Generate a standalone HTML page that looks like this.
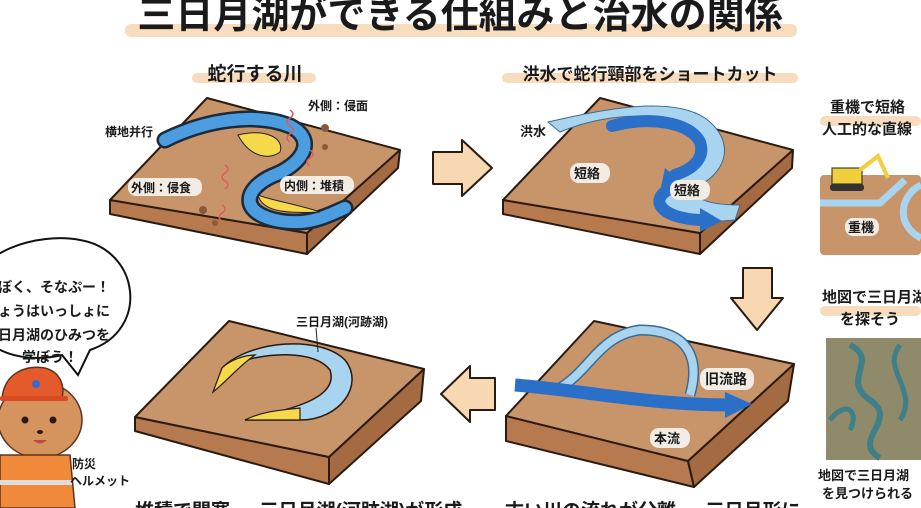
<!DOCTYPE html>
<html><head><meta charset="utf-8"><style>
html,body{margin:0;padding:0;background:#fff;}
svg{display:block;}
text{font-family:"Liberation Sans","Noto Sans CJK JP",sans-serif;fill:#1a1a1a;font-weight:bold;}
</style></head><body>
<svg width="921" height="508" viewBox="0 0 921 508" xmlns="http://www.w3.org/2000/svg">
<rect width="921" height="508" fill="#fff"/>
<rect x="125" y="24" width="672" height="13" rx="6" fill="#f7dcbd"/>
<text x="460" y="28" font-size="38" text-anchor="middle">三日月湖ができる仕組みと治水の関係</text>

<rect x="192" y="73" width="124" height="10" rx="5" fill="#f7dcbd"/>
<text x="255" y="80" font-size="19" text-anchor="middle">蛇行する川</text>
<rect x="502" y="73" width="296" height="10" rx="5" fill="#f7dcbd"/>
<text x="650" y="80" font-size="17" text-anchor="middle">洪水で蛇行頸部をショートカット</text>

<g stroke="#2a1a10" stroke-width="2" stroke-linejoin="round">
<polygon points="110,200 307,233 307,254 110,214" fill="#b77a4e"/>
<polygon points="307,233 400,150 398,168 307,254" fill="#a46a41"/>
<polygon points="207,98 400,150 307,233 110,200" fill="#c8956a"/>
</g>
<g fill="none" stroke-linecap="round">
<path d="M165,140 C205,120 255,112 290,126 C318,140 302,165 272,176 C242,190 240,214 280,221 C312,226 330,214 345,208" stroke="#1c2a3a" stroke-width="17"/>
<path d="M165,140 C205,120 255,112 290,126 C318,140 302,165 272,176 C242,190 240,214 280,221 C312,226 330,214 345,208" stroke="#4b9de0" stroke-width="12"/>
</g>
<path d="M238,135 C265,128 285,138 280,152 C270,160 250,158 238,135Z" fill="#f5d94a" stroke="#222" stroke-width="1"/>
<path d="M258,195 C262,210 280,214 320,212 C300,205 270,200 258,195Z" fill="#f5d94a" stroke="#222" stroke-width="1"/>
<g stroke="#e05a5a" stroke-width="1.5" fill="none">
<path d="M290,110 q6,4 0,8 q-6,4 0,8 q6,4 0,8 q-6,4 0,8"/>
<path d="M310,150 q6,4 0,8 q-6,4 0,8"/>
<path d="M225,165 q6,4 0,8 q-6,4 0,8 q6,4 0,8"/>
<path d="M222,205 q6,4 0,8 q-6,4 0,8"/>
</g>
<g fill="#8a5a38"><circle cx="325" cy="128" r="4"/><circle cx="325" cy="147" r="3"/><circle cx="203" cy="210" r="4"/><circle cx="215" cy="223" r="3"/></g>
<text x="308" y="110" font-size="12">外側：侵面</text>
<text x="105" y="136" font-size="12">横地并行</text>
<rect x="128" y="178" width="74" height="18" rx="8" fill="#f3ece4"/>
<text x="131" y="192" font-size="12">外側：侵食</text>
<rect x="280" y="176" width="74" height="18" rx="8" fill="#f3ece4"/>
<text x="284" y="190" font-size="12">内側：堆積</text>

<polygon points="433,152 462,152 462,140 492,168 462,196 462,184 433,184" fill="#f7d8b3" stroke="#2a1a10" stroke-width="2" stroke-linejoin="round"/>

<g stroke="#2a1a10" stroke-width="2" stroke-linejoin="round">
<polygon points="503,200 700,233 700,254 503,214" fill="#b77a4e"/>
<polygon points="700,233 793,150 792,168 700,254" fill="#a46a41"/>
<polygon points="600,98 793,150 700,233 503,200" fill="#c8956a"/>
</g>
<path d="M560,132 C600,115 660,108 690,130 C712,148 700,170 680,178 C650,190 660,220 710,222 L735,220 L740,205 C700,205 690,195 700,185 C728,170 735,140 705,118 C670,95 600,110 548,122Z" fill="#a8d4ef" stroke="#3a6a90" stroke-width="1"/>
<path d="M612,126 C650,116 690,122 700,142 C706,160 690,170 675,175" fill="none" stroke="#2a6fc8" stroke-width="12" stroke-linecap="round"/>
<polygon points="665,168 685,185 660,192" fill="#2a6fc8"/>
<path d="M668,190 C650,200 660,218 700,220" fill="none" stroke="#2a6fc8" stroke-width="12" stroke-linecap="round"/>
<polygon points="700,208 722,221 700,232" fill="#2a6fc8"/>
<text x="520" y="136" font-size="13">洪水</text>
<rect x="570" y="163" width="40" height="20" rx="9" fill="#f3ece4"/>
<text x="574" y="178" font-size="13">短絡</text>
<rect x="670" y="180" width="40" height="20" rx="9" fill="#f3ece4"/>
<text x="674" y="195" font-size="13">短絡</text>

<polygon points="743,268 772,268 772,298 783,298 757,330 731,298 743,298" fill="#f7d8b3" stroke="#2a1a10" stroke-width="2" stroke-linejoin="round"/>

<g stroke="#2a1a10" stroke-width="2" stroke-linejoin="round">
<polygon points="506,416 688,461 694,487 506,441" fill="#b77a4e"/>
<polygon points="688,461 794,364 788,401 694,487" fill="#a46a41"/>
<polygon points="594,321 794,364 688,461 506,416" fill="#c8956a"/>
</g>
<path d="M560,388 C590,370 600,335 640,330 C690,330 700,360 690,395" fill="none" stroke="#3a6a90" stroke-width="11"/>
<path d="M560,388 C590,370 600,335 640,330 C690,330 700,360 690,395" fill="none" stroke="#a8d4ef" stroke-width="8"/>
<path d="M515,385 C580,390 650,405 730,405" fill="none" stroke="#2a6fc8" stroke-width="13"/>
<polygon points="725,392 752,404 725,418" fill="#2a6fc8"/>
<rect x="700" y="368" width="54" height="22" rx="9" fill="#f3ece4"/>
<text x="705" y="384" font-size="14">旧流路</text>
<rect x="650" y="428" width="40" height="20" rx="9" fill="#f3ece4"/>
<text x="654" y="443" font-size="13">本流</text>

<polygon points="495,378 470,378 470,366 441,394 470,422 470,410 495,410" fill="#f7d8b3" stroke="#2a1a10" stroke-width="2" stroke-linejoin="round"/>

<g stroke="#2a1a10" stroke-width="2" stroke-linejoin="round">
<polygon points="135,417 329,457 329,484 135,431" fill="#b77a4e"/>
<polygon points="329,457 424,369 421,401 329,484" fill="#a46a41"/>
<polygon points="229,321 424,369 329,457 135,417" fill="#c8956a"/>
</g>
<path d="M222,368 C250,340 320,335 345,360 C365,385 340,420 300,420 L245,420 C285,410 340,400 330,370 C315,350 265,350 222,368Z" fill="#a8d4ef" stroke="#2a1a10" stroke-width="1.5"/>
<path d="M222,368 C230,360 245,355 255,355 C240,365 228,380 213,392Z" fill="#f5d94a" stroke="#2a1a10" stroke-width="1.2"/>
<path d="M245,420 C265,410 285,410 300,408 L300,420Z" fill="#f5d94a" stroke="#2a1a10" stroke-width="1.2"/>
<line x1="316" y1="328" x2="318" y2="352" stroke="#222"/>
<text x="296" y="326" font-size="12">三日月湖(河跡湖)</text>

<text x="135" y="517" font-size="19">堆積で閉塞 → 三日月湖(河跡湖)が形成</text>
<text x="505" y="517" font-size="19">古い川の流れが分離 → 三日月形に</text>

<rect x="820" y="116" width="101" height="10" rx="5" fill="#f7dcbd"/>
<text x="830" y="112" font-size="15">重機で短絡</text>
<text x="822" y="134" font-size="15">人工的な直線</text>
<rect x="820" y="175" width="101" height="80" rx="4" fill="#c8956a"/>
<path d="M820,203 L880,203 L905,180" stroke="#a8d4ef" stroke-width="7" fill="none"/>
<path d="M921,185 C900,195 895,225 921,238" stroke="#a8d4ef" stroke-width="7" fill="none"/>
<rect x="832" y="168" width="30" height="16" fill="#f0cf3c" stroke="#222"/>
<rect x="830" y="184" width="34" height="7" rx="3" fill="#333"/>
<path d="M860,170 L878,156 L888,178" stroke="#f0cf3c" stroke-width="4" fill="none"/>
<rect x="845" y="218" width="34" height="18" rx="8" fill="#f3ece4"/>
<text x="848" y="232" font-size="13">重機</text>
<rect x="820" y="306" width="101" height="10" rx="5" fill="#f7dcbd"/>
<text x="822" y="302" font-size="15">地図で三日月湖</text>
<text x="840" y="324" font-size="15">を探そう</text>
<rect x="826" y="338" width="95" height="122" fill="#8f8a6a"/>
<path d="M850,345 C880,360 840,380 870,400 C900,420 850,440 880,458" stroke="#3f7f8a" stroke-width="6" fill="none"/>
<path d="M900,345 C880,370 920,390 900,420" stroke="#3f7f8a" stroke-width="5" fill="none"/>
<path d="M830,420 C845,400 860,410 850,430" stroke="#3f7f8a" stroke-width="5" fill="none"/>
<text x="818" y="480" font-size="13">地図で三日月湖</text>
<text x="822" y="498" font-size="13">を見つけられる</text>

<path d="M-30,300 C-30,250 40,232 80,240 C140,250 150,330 90,350 L78,375 L62,355 C20,365 -30,350 -30,300Z" fill="#fff" stroke="#111" stroke-width="2"/>
<text x="-2" y="292" font-size="14">ぼく、そなぷー！</text>
<text x="-2" y="316" font-size="14">ょうはいっしょに</text>
<text x="-2" y="340" font-size="14">日月湖のひみつを</text>
<text x="22" y="362" font-size="14">学ぼう！</text>

<ellipse cx="40" cy="420" rx="42" ry="38" fill="#d5935e" stroke="#5a3520" stroke-width="1.5"/>
<path d="M2,398 C5,370 30,365 45,368 C60,372 65,385 62,398 Z" fill="#e55a2a" stroke="#5a3520" stroke-width="1.5"/>
<rect x="0" y="396" width="68" height="5" rx="2" fill="#d94a20"/>
<circle cx="36" cy="384" r="4" fill="#3a6ad0"/>
<circle cx="25" cy="420" r="3.5" fill="#2a1a10"/><circle cx="53" cy="420" r="3.5" fill="#2a1a10"/>
<ellipse cx="40" cy="432" rx="3" ry="2" fill="#2a1a10"/>
<path d="M33,440 q7,7 14,0" fill="#c04848"/>
<path d="M0,455 L70,455 L75,508 L0,508Z" fill="#f08a3a" stroke="#5a3520" stroke-width="1.5"/>
<rect x="0" y="480" width="72" height="5" fill="#ddd"/>
<text x="72" y="468" font-size="12" font-weight="normal">防災</text>
<text x="70" y="485" font-size="12" font-weight="normal">ヘルメット</text>
</svg>
</body></html>
